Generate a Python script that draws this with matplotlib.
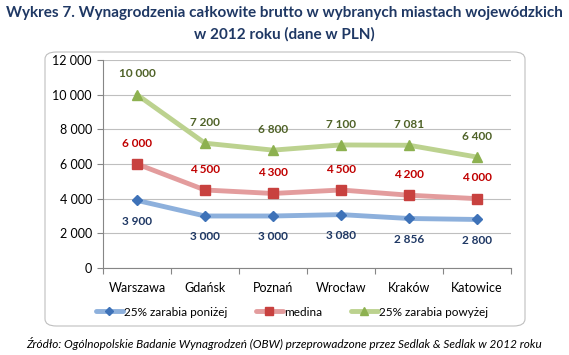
import matplotlib.pyplot as plt
from matplotlib.patches import FancyBboxPatch
from matplotlib.ticker import FuncFormatter

plt.rcParams['font.family'] = ['Lato', 'DejaVu Sans']

cities = ['Warszawa', 'Gdańsk', 'Poznań', 'Wrocław', 'Kraków', 'Katowice']
low = [3900, 3000, 3000, 3080, 2856, 2800]
median = [6000, 4500, 4300, 4500, 4200, 4000]
high = [10000, 7200, 6800, 7100, 7081, 6400]
yticks = [0, 2000, 4000, 6000, 8000, 10000, 12000]


def fmt(v):
    return f'{v:,.0f}'.replace(',', ' ')


fig = plt.figure(figsize=(5.69, 3.55), dpi=100)
fig.patch.set_facecolor('white')

box = FancyBboxPatch((45 / 569, 1 - 326 / 355), 480 / 569, 274 / 355,
                     boxstyle='round,pad=0,rounding_size=0.02',
                     transform=fig.transFigure, fc='white', ec='#BFBFBF', lw=0.8,
                     zorder=-1)
fig.patches.append(box)

fig.text(0.5, 1 - 13 / 355, 'Wykres 7. Wynagrodzenia całkowite brutto w wybranych miastach wojewódzkich',
         ha='center', va='center', fontsize=11, fontweight='bold', color='#1F3864')
fig.text(0.5, 1 - 34 / 355, 'w 2012 roku (dane w PLN)',
         ha='center', va='center', fontsize=11, fontweight='bold', color='#1F3864')

ax = fig.add_axes([103 / 569, 1 - 268 / 355, 408 / 569, 208 / 355])
ax.patch.set_alpha(0)
x = range(len(cities))

series = [
    (low, '25% zarabia poniżej', '#8DB0DC', '#3E72B8', 'D', 5, '#1F3864', -1),
    (median, 'medina', '#E39C9D', '#C8413F', 's', 7, '#C00000', 1),
    (high, '25% zarabia powyżej', '#BCD28F', '#8DB150', '^', 7, '#4F6228', 1),
]
for vals, name, lc, mc, mk, ms, tc, side in series:
    ax.plot(x, vals, color=lc, lw=3.5, marker=mk, ms=ms, mfc=mc, mec=mc,
            label=name, solid_capstyle='round')
    for i, v in enumerate(vals):
        ax.annotate(fmt(v), (i, v), xytext=(0, 15 * side), textcoords='offset points',
                    ha='center', va='center', fontsize=8.5, fontweight='bold', color=tc)

ax.set_xlim(-0.5, len(cities) - 0.5)
ax.set_ylim(0, 12000)
ax.set_yticks(yticks)
ax.yaxis.set_major_formatter(FuncFormatter(lambda v, p: fmt(v)))
ax.set_xticks([i + 0.5 for i in range(-1, len(cities))], minor=False)
ax.set_xticklabels([])
ax.set_xticks(list(x), minor=True)
ax.set_xticklabels(cities, minor=True)
ax.tick_params(axis='x', which='minor', length=0, pad=10, labelsize=9)
ax.tick_params(axis='x', which='major', length=4, color='#868686')
ax.tick_params(axis='y', length=4, color='#868686', labelsize=9, pad=4)
ax.grid(axis='y', color='#BFBFBF', lw=0.8)
ax.set_axisbelow(True)
for s in ['top', 'right']:
    ax.spines[s].set_visible(False)
for s in ['left', 'bottom']:
    ax.spines[s].set_color('#868686')

fig.legend(loc='center', bbox_to_anchor=(292 / 569, 1 - 312 / 355), ncol=3, frameon=False,
           fontsize=8.5, handlelength=2.3, columnspacing=2.4, handletextpad=0.1,
           markerscale=0.9)

fig.text(0.5, 1 - 343 / 355,
         'Źródło: Ogólnopolskie Badanie Wynagrodzeń (OBW) przeprowadzone przez Sedlak & Sedlak w 2012 roku',
         ha='center', va='center', fontsize=8.5, style='italic', color='black')

fig.savefig('out.png', dpi=100)
